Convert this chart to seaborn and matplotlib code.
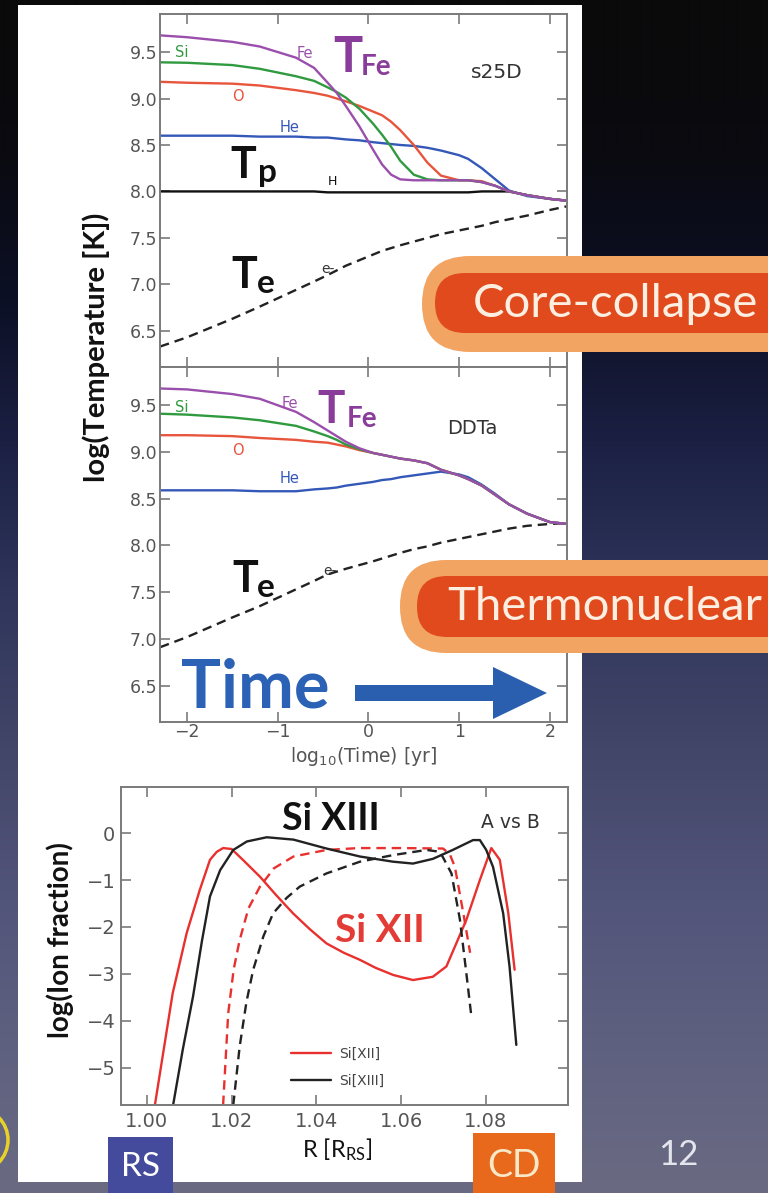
import numpy as np
import pandas as pd
import matplotlib
matplotlib.use("Agg")
import matplotlib.pyplot as plt
import seaborn as sns
from matplotlib.patches import FancyBboxPatch, Rectangle, FancyArrow, Circle
from matplotlib.lines import Line2D

# ---------------- data ----------------
TIME = [-2.3, -2.0, -1.5, -1.2, -0.8, -0.6, -0.45, -0.35, -0.25, -0.1, 0.05, 0.15,
        0.25, 0.35, 0.5, 0.65, 0.8, 1.0, 1.1, 1.25, 1.4, 1.55, 1.75, 2.0, 2.19]

# s25D (core-collapse)
s25d_fe = [9.68, 9.66, 9.61, 9.56, 9.44, 9.33, 9.17, 9.06, 8.92, 8.70, 8.45, 8.29,
           8.18, 8.13, 8.12, 8.12, 8.12, 8.12, 8.12, 8.10, 8.06, 8.00, 7.96, 7.92, 7.90]
s25d_si = [9.39, 9.385, 9.36, 9.32, 9.24, 9.19, 9.12, 9.07, 9.01, 8.89, 8.73, 8.61,
           8.48, 8.33, 8.18, 8.13, 8.12, 8.12, 8.12, 8.10, 8.06, 8.00, 7.96, 7.92, 7.90]
s25d_o = [9.18, 9.17, 9.16, 9.14, 9.09, 9.06, 9.03, 9.00, 8.97, 8.92, 8.86, 8.82,
          8.75, 8.66, 8.50, 8.31, 8.17, 8.12, 8.12, 8.11, 8.06, 8.00, 7.96, 7.92, 7.90]
s25d_he = [8.60, 8.60, 8.60, 8.59, 8.59, 8.58, 8.58, 8.57, 8.56, 8.55, 8.53, 8.52,
           8.51, 8.50, 8.49, 8.47, 8.44, 8.39, 8.35, 8.25, 8.13, 8.01, 7.95, 7.92, 7.90]
s25d_h = [8.00, 8.00, 8.00, 8.00, 8.00, 8.00, 7.99, 7.99, 7.99, 7.99, 7.99, 7.99,
          7.99, 7.99, 7.99, 7.99, 7.99, 7.99, 7.99, 8.00, 8.00, 8.00, 7.96, 7.92, 7.90]
s25d_e = [6.33, 6.43, 6.63, 6.76, 6.94, 7.03, 7.10, 7.15, 7.20, 7.26, 7.32, 7.36,
          7.39, 7.42, 7.46, 7.50, 7.54, 7.58, 7.60, 7.63, 7.67, 7.70, 7.74, 7.80, 7.84]

# DDTa (thermonuclear)
ddta_fe = [9.68, 9.67, 9.62, 9.57, 9.43, 9.32, 9.23, 9.17, 9.11, 9.04, 8.99, 8.97,
           8.95, 8.93, 8.91, 8.88, 8.81, 8.75, 8.71, 8.64, 8.54, 8.44, 8.34, 8.25, 8.23]
ddta_si = [9.41, 9.40, 9.37, 9.34, 9.28, 9.22, 9.17, 9.13, 9.08, 9.03, 8.99, 8.97,
           8.95, 8.93, 8.91, 8.88, 8.81, 8.75, 8.71, 8.64, 8.54, 8.44, 8.34, 8.25, 8.23]
ddta_o = [9.18, 9.18, 9.17, 9.15, 9.13, 9.11, 9.10, 9.08, 9.06, 9.02, 8.99, 8.97,
          8.95, 8.93, 8.91, 8.88, 8.81, 8.75, 8.71, 8.64, 8.54, 8.44, 8.34, 8.25, 8.23]
ddta_he = [8.59, 8.59, 8.59, 8.58, 8.58, 8.60, 8.61, 8.62, 8.64, 8.66, 8.68, 8.70,
           8.71, 8.73, 8.75, 8.77, 8.79, 8.76, 8.73, 8.65, 8.55, 8.44, 8.34, 8.25, 8.23]
ddta_e = [6.91, 7.02, 7.23, 7.35, 7.53, 7.62, 7.69, 7.72, 7.75, 7.79, 7.83, 7.86,
          7.89, 7.92, 7.96, 7.99, 8.03, 8.07, 8.09, 8.12, 8.15, 8.18, 8.21, 8.23, 8.24]

SPECIES = ["Fe", "Si", "O", "He", "H", "e-"]
SPECIES_COLORS = {"Fe": "#9a4fac", "Si": "#2f9a3f", "O": "#e8553d",
                  "He": "#3458b8", "H": "#111111", "e-": "#222222"}

# ion fractions (bottom panel): R in units of R_RS, log fraction
r_xii_a = [1.0019, 1.0040, 1.0061, 1.0094, 1.0125, 1.0149, 1.0165, 1.0180, 1.0200,
           1.0230, 1.0267, 1.0305, 1.0345, 1.0385, 1.0424, 1.0465, 1.0503, 1.0540,
           1.0581, 1.0628, 1.0675, 1.0707, 1.0727, 1.0754, 1.0786, 1.0813, 1.0833,
           1.0853, 1.0868]
f_xii_a = [-5.79, -4.60, -3.41, -2.13, -1.21, -0.57, -0.40, -0.32, -0.34,
           -0.60, -0.93, -1.32, -1.71, -2.05, -2.35, -2.55, -2.70, -2.87,
           -3.02, -3.13, -3.06, -2.84, -2.42, -1.85, -1.00, -0.32, -0.57,
           -1.70, -2.91]
r_xiii_a = [1.0062, 1.0085, 1.0109, 1.0130, 1.0149, 1.0173, 1.0204, 1.0236, 1.0283,
            1.0346, 1.0424, 1.0503, 1.0581, 1.0628, 1.0675, 1.0722, 1.0770, 1.0786,
            1.0801, 1.0817, 1.0841, 1.0856, 1.0872]
f_xiii_a = [-5.79, -4.60, -3.48, -2.30, -1.35, -0.79, -0.36, -0.18, -0.09,
            -0.14, -0.33, -0.50, -0.61, -0.65, -0.55, -0.36, -0.15, -0.15,
            -0.36, -0.72, -1.71, -2.84, -4.51]
r_xii_b = [1.0180, 1.0192, 1.0205, 1.0219, 1.0240, 1.0267, 1.0300, 1.0346, 1.0424,
           1.0500, 1.0600, 1.0699, 1.0715, 1.0727, 1.0747, 1.0763]
f_xii_b = [-5.79, -3.84, -2.90, -2.28, -1.60, -1.14, -0.75, -0.50, -0.36,
           -0.32, -0.32, -0.33, -0.45, -0.72, -1.71, -2.55]
r_xiii_b = [1.0204, 1.0219, 1.0235, 1.0251, 1.0275, 1.0298, 1.0330, 1.0361, 1.0424,
            1.0503, 1.0581, 1.0660, 1.0692, 1.0719, 1.0739, 1.0754, 1.0766]
f_xiii_b = [-5.79, -4.55, -3.60, -2.91, -2.20, -1.71, -1.38, -1.14, -0.86,
            -0.61, -0.47, -0.36, -0.40, -0.86, -1.85, -2.98, -3.91]

ION_COLORS = {"Si[XII]": "#e8312f", "Si[XIII]": "#222222"}

T_TICKS = [6.5, 7.0, 7.5, 8.0, 8.5, 9.0, 9.5]
TIME_TICKS = [-2, -1, 0, 1, 2]
R_TICKS = [1.00, 1.02, 1.04, 1.06, 1.08]
F_TICKS = [-5, -4, -3, -2, -1, 0]

# ---------------- style ----------------
sns.set_style("ticks")
plt.rcParams["font.family"] = ["DejaVu Sans"]
plt.rcParams["axes.unicode_minus"] = True

W, H = 768, 1193
fig = plt.figure(figsize=(W / 100, H / 100), dpi=100)


def px_rect(x0, y0, x1, y1):
    return [x0 / W, (H - y1) / H, (x1 - x0) / W, (y1 - y0) / H]


# background slide
bg = fig.add_axes([0, 0, 1, 1], zorder=-10)
stops_y = [0, 150, 300, 450, 600, 750, 900, 1050, 1193]
stops_c = ["#0a0a0a", "#0a0a10", "#0c1025", "#1c2145", "#30365c", "#424668",
           "#52557a", "#5f6180", "#6a6a82"]
rgb = np.array([matplotlib.colors.to_rgb(c) for c in stops_c])
yy = np.arange(H)
grad = np.stack([np.interp(yy, stops_y, rgb[:, k]) for k in range(3)], axis=-1)
bg.imshow(grad[:, None, :], extent=[0, W, H, 0], aspect="auto", interpolation="bilinear")
bg.add_patch(Rectangle((18, 5), 564, 1177, color="white", lw=0))
bg.add_patch(Circle((-24, 1140), 32, fill=False, ec="#e8d22a", lw=2.5))
bg.set_xlim(0, W)
bg.set_ylim(H, 0)
bg.axis("off")


def style_axes(ax, fs, pad_x=3, pad_y=3):
    for s in ax.spines.values():
        s.set_color("#7a7a7a")
        s.set_linewidth(1.4)
    ax.tick_params(direction="in", length=7, width=1.2, color="#7a7a7a",
                   top=True, right=True, labelsize=fs, labelcolor="#555555")
    ax.tick_params(axis="x", pad=pad_x)
    ax.tick_params(axis="y", pad=pad_y)
    ax.set_xlabel("")
    ax.set_ylabel("")


def temp_frame(vals):
    rows = []
    for sp, arr in zip(SPECIES, vals):
        for t, v in zip(TIME, arr):
            rows.append((t, v, sp))
    return pd.DataFrame(rows, columns=["time", "logT", "species"])


dash_map = {"Fe": "", "Si": "", "O": "", "He": "", "H": "", "e-": (4, 2.5)}

ax1 = fig.add_axes(px_rect(160, 14, 567, 367))
ax2 = fig.add_axes(px_rect(160, 367, 567, 722))
ax3 = fig.add_axes(px_rect(121, 787, 568, 1105))

df1 = temp_frame([s25d_fe, s25d_si, s25d_o, s25d_he, s25d_h, s25d_e])
order1 = ["H", "e-", "He", "O", "Si", "Fe"]
sns.lineplot(data=df1, x="time", y="logT", hue="species", style="species",
             hue_order=order1, style_order=order1, palette=SPECIES_COLORS,
             dashes=dash_map, estimator=None, sort=False, lw=1.7, legend=False, ax=ax1)
df2 = temp_frame([ddta_fe, ddta_si, ddta_o, ddta_he, [np.nan] * len(TIME), ddta_e])
df2 = df2.dropna()
order2 = ["e-", "He", "O", "Si", "Fe"]
sns.lineplot(data=df2, x="time", y="logT", hue="species", style="species",
             hue_order=order2, style_order=order2, palette=SPECIES_COLORS,
             dashes=dash_map, estimator=None, sort=False, lw=1.7, legend=False, ax=ax2)

for ax in (ax1, ax2):
    ax.set_xlim(-2.30, 2.19)
    ax.set_ylim(6.11, 9.91)
    ax.set_yticks(T_TICKS)
    ax.set_yticklabels([f"{v:.1f}" for v in T_TICKS])
    ax.set_xticks(TIME_TICKS)
    style_axes(ax, 12.5, pad_x=1, pad_y=2)
ax1.tick_params(labelbottom=False)
ax2.set_xticklabels(["\u22122", "\u22121", "0", "1", "2"])

# small species labels
lab_kw = dict(fontsize=10.5, ha="center", va="center")
ax1.text(-2.06, 9.50, "Si", color=SPECIES_COLORS["Si"], **lab_kw)
ax1.text(-0.70, 9.49, "Fe", color=SPECIES_COLORS["Fe"], **lab_kw)
ax1.text(-1.44, 9.02, "O", color=SPECIES_COLORS["O"], **lab_kw)
ax1.text(-0.87, 8.69, "He", color=SPECIES_COLORS["He"], **lab_kw)
ax1.text(-0.40, 8.11, "H", color="#111111", fontsize=9, ha="center", va="center")
ax1.text(-0.45, 7.16, "e-", color="#333333", fontsize=10, ha="center", va="center")
ax1.text(1.42, 9.28, "s25D", color="#333333", fontsize=14.5, ha="center", va="center")

ax2.text(-2.06, 9.48, "Si", color=SPECIES_COLORS["Si"], **lab_kw)
ax2.text(-0.87, 9.52, "Fe", color=SPECIES_COLORS["Fe"], **lab_kw)
ax2.text(-1.44, 9.02, "O", color=SPECIES_COLORS["O"], **lab_kw)
ax2.text(-0.87, 8.72, "He", color=SPECIES_COLORS["He"], **lab_kw)
ax2.text(-0.42, 7.73, "e-", color="#333333", fontsize=10, ha="center", va="center")
ax2.text(1.15, 9.25, "DDTa", color="#333333", fontsize=14, ha="center", va="center")

# bottom panel
rows = []
for r, f, ion, model in [(r_xii_a, f_xii_a, "Si[XII]", "A"),
                         (r_xiii_a, f_xiii_a, "Si[XIII]", "A"),
                         (r_xii_b, f_xii_b, "Si[XII]", "B"),
                         (r_xiii_b, f_xiii_b, "Si[XIII]", "B")]:
    for a, b in zip(r, f):
        rows.append((a, b, ion, model))
df3 = pd.DataFrame(rows, columns=["R", "frac", "ion", "model"])
sns.lineplot(data=df3, x="R", y="frac", hue="ion", style="model",
             palette=ION_COLORS, dashes={"A": "", "B": (4, 2.5)},
             units="model", estimator=None, sort=False, lw=1.7, legend=False, ax=ax3)
ax3.set_xlim(0.9939, 1.0994)
ax3.set_ylim(-5.79, 0.98)
ax3.set_xticks(R_TICKS)
ax3.set_xticklabels([f"{v:.2f}" for v in R_TICKS])
ax3.set_yticks(F_TICKS)
ax3.set_yticklabels(["\u22125", "\u22124", "\u22123", "\u22122", "\u22121", "0"])
style_axes(ax3, 14, pad_x=5, pad_y=4)
handles = [Line2D([], [], color=ION_COLORS[k], lw=1.7) for k in ION_COLORS]
leg = ax3.legend(handles, list(ION_COLORS), loc="upper left",
                 bbox_to_anchor=(284 / W, (H - 1040) / H), bbox_transform=fig.transFigure,
                 frameon=False, fontsize=10, handlelength=2.9, handletextpad=0.6,
                 labelspacing=0.95, borderpad=0)
for t in leg.get_texts():
    t.set_color("#444444")
ax3.text(1.0859, 0.23, "A vs B", color="#333333", fontsize=13.5, ha="center", va="center")

# ---------------- overlay (pixel coordinates) ----------------
ov = fig.add_axes([0, 0, 1, 1], zorder=10)
ov.set_xlim(0, W)
ov.set_ylim(H, 0)
ov.axis("off")
ov.patch.set_alpha(0)

LFONT = ["Lato", "DejaVu Sans"]

# big temperature labels
ov.text(333, 72, "T", color="#8a3c9a", fontsize=35, fontweight="bold", family=LFONT, va="baseline")
ov.text(361, 75, "Fe", color="#8a3c9a", fontsize=20, fontweight="bold", family=LFONT, va="baseline")
ov.text(230, 178, "T", color="#111111", fontsize=31, fontweight="bold", family=LFONT, va="baseline")
ov.text(258, 182, "p", color="#111111", fontsize=24, fontweight="bold", family=LFONT, va="baseline")
ov.text(231, 288, "T", color="#111111", fontsize=31, fontweight="bold", family=LFONT, va="baseline")
ov.text(257, 293, "e", color="#111111", fontsize=24, fontweight="bold", family=LFONT, va="baseline")

ov.text(317, 423, "T", color="#8a3c9a", fontsize=33, fontweight="bold", family=LFONT, va="baseline")
ov.text(347, 427, "Fe", color="#8a3c9a", fontsize=20, fontweight="bold", family=LFONT, va="baseline")
ov.text(232, 592, "T", color="#111111", fontsize=31, fontweight="bold", family=LFONT, va="baseline")
ov.text(257, 597, "e", color="#111111", fontsize=24, fontweight="bold", family=LFONT, va="baseline")

ov.text(331, 819, "Si XIII", color="#111111", fontsize=27, fontweight="bold", family=LFONT,
        ha="center", va="center")
ov.text(380, 931, "Si XII", color="#e33b35", fontsize=28, fontweight="bold", family=LFONT,
        ha="center", va="center")

# axis labels
ov.text(96, 347, "log(Temperature [K])", rotation=90, color="#111111", fontsize=21,
        fontweight="bold", family=LFONT, ha="center", va="center")
ov.text(60, 940, "log(Ion fraction)", rotation=90, color="#111111", fontsize=20,
        fontweight="bold", family=LFONT, ha="center", va="center")
ov.text(363, 757, "log$_{10}$(Time) [yr]", color="#555555", fontsize=13.5,
        ha="center", va="center")
ov.text(337, 1150, "R [R$\\mathregular{_{RS}}$]", color="#111111", fontsize=17,
        family=LFONT, ha="center", va="center")

# Time arrow
ov.text(181, 707, "Time", color="#2c62b6", fontsize=48, fontweight="bold", family=LFONT,
        va="baseline")
ov.add_patch(FancyArrow(355, 693, 192, 0, width=16, head_width=52, head_length=54,
                        length_includes_head=True, color="#2a5fb0", lw=0))

# badges
ov.add_patch(FancyBboxPatch((422, 256), 420, 96, boxstyle="round,pad=0,rounding_size=48",
                            fc="#f2a462", ec="none"))
ov.add_patch(FancyBboxPatch((435, 273), 420, 60, boxstyle="round,pad=0,rounding_size=30",
                            fc="#e04a1c", ec="none"))
ov.text(615, 304, "Core-collapse", color="#fcefe2", fontsize=34, family=LFONT,
        ha="center", va="center")
ov.add_patch(FancyBboxPatch((400, 560), 440, 93, boxstyle="round,pad=0,rounding_size=46",
                            fc="#f2a462", ec="none"))
ov.add_patch(FancyBboxPatch((417, 576), 440, 61, boxstyle="round,pad=0,rounding_size=30",
                            fc="#e04a1c", ec="none"))
ov.text(605, 607, "Thermonuclear", color="#fcefe2", fontsize=34, family=LFONT,
        ha="center", va="center")

# RS / CD boxes and slide number
ov.add_patch(Rectangle((108, 1137), 65, 56, fc="#444a9c", ec="none"))
ov.text(140.5, 1167, "RS", color="white", fontsize=24, family=LFONT, ha="center", va="center")
ov.add_patch(Rectangle((473, 1133), 82, 60, fc="#e8691c", ec="none"))
ov.text(514, 1166, "CD", color="#f8e8c8", fontsize=27, family=LFONT, ha="center", va="center")
ov.text(678, 1155, "12", color="#e4e4ec", fontsize=25, family=LFONT, ha="center", va="center")

fig.savefig("out.png", dpi=100)
